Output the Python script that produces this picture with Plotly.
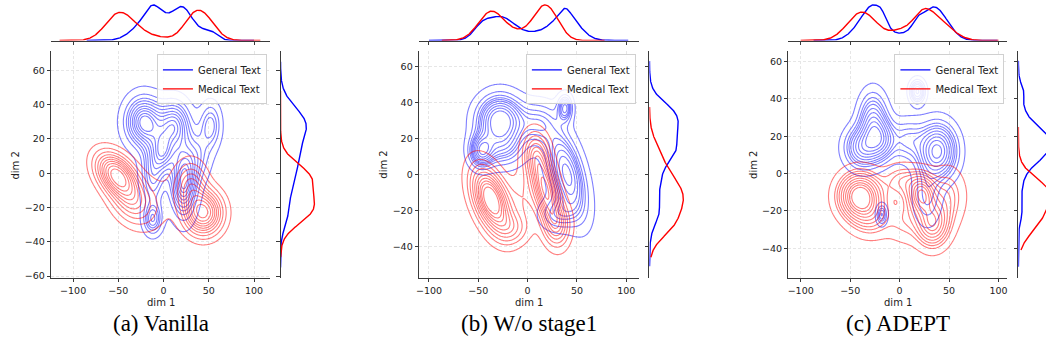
import numpy as np
import plotly.graph_objects as go

W, H = 1046, 354

# ---------------- data ----------------
panel_captions = ["(a) Vanilla", "(b) W/o stage1", "(c) ADEPT"]
class_names = ["General Text", "Medical Text"]
class_colors = ["#0000ff", "#ff0000"]
contour_colors = ["rgba(0,0,255,0.5)", "rgba(255,0,0,0.5)"]

x_ticks = [-100, -50, 0, 50, 100]
y_ticks_a = [-60, -40, -20, 0, 20, 40, 60]
y_ticks_bc = [-40, -20, 0, 20, 40, 60]

# Gaussian-mixture description of each KDE:
# (mean dim1, mean dim2, sd dim1, sd dim2, correlation, weight)
vanilla_general = [
    (-22, 30, 14, 10, 0.0, 0.22),
    (-12, 0, 9, 14, 0.0, 0.12),
    (-12, -27, 7, 6, 0.0, 0.04),
    (22, -5, 10, 14, 0.0, 0.22),
    (12, 28, 12, 10, 0.0, 0.16),
    (0, 12, 8, 8, 0.0, 0.06),
    (52, 28, 8, 9, 0.0, 0.06),
    (38, 10, 10, 10, 0.0, 0.06),
]
vanilla_medical = [
    (-52, -1, 14, 8, -0.4, 0.31),
    (-35, -16, 15, 9, -0.3, 0.17),
    (30, -8, 11, 9, 0.0, 0.14),
    (44, -23, 13, 8, 0.0, 0.31),
    (-5, -15, 15, 12, 0.0, 0.04),
]
wo_stage1_general = [
    (-28, 30, 15, 9, 0.0, 0.28),
    (-47, 13, 8, 6, 0.0, 0.07),
    (-25, 14, 15, 7, 0.0, 0.08),
    (40, 0, 13, 16, -0.5, 0.30),
    (38, 37, 5, 5, 0.0, 0.03),
    (10, 28, 13, 8, 0.0, 0.08),
    (30, -22, 12, 6, 0.0, 0.05),
]
wo_stage1_medical = [
    (-37, -14, 13, 12, -0.45, 0.40),
    (-15, -30, 12, 6, 0.0, 0.05),
    (18, -8, 10, 14, -0.5, 0.30),
    (30, -28, 9, 8, 0.0, 0.08),
    (8, 12, 9, 8, 0.0, 0.07),
    (-5, -12, 10, 10, 0.0, 0.04),
]
adept_general = [
    (-27, 27, 9, 10, 0.0, 0.14),
    (-38, 14, 11, 7, 0.0, 0.12),
    (-18, 18, 9, 7, 0.0, 0.08),
    (38, 12, 12, 9, 0.0, 0.26),
    (8, 18, 11, 7, 0.0, 0.06),
    (18, 44, 5, 4, 0.0, 0.03),
    (28, -12, 9, 10, 0.0, 0.06),
    (-18, -22, 3.5, 3.5, 0.0, 0.012),
]
adept_medical = [
    (-40, -12, 14, 8, 0.0, 0.32),
    (-28, -24, 14, 7, 0.0, 0.08),
    (22, -11, 9, 7, 0.0, 0.14),
    (33, -27, 11, 8, 0.0, 0.18),
    (48, -12, 12, 10, 0.0, 0.10),
    (2, -4, 12, 6, 0.0, 0.06),
    (5, -25, 11, 8, 0.0, 0.05),
]

# support of the 1-D marginal KDE curves: (dim1 min, dim1 max, dim2 min, dim2 max)
vanilla_support = [(-85, 100, -55, 65), (-115, 107, -49, 48)]
wo_stage1_support = [(-100, 102, -51, 63), (-87, 78, -46, 37.5)]
adept_support = [(-87, 99, -50, 60.5), (-100, 100, -41, 25)]

panels_data = [
    (vanilla_general, vanilla_medical, vanilla_support),
    (wo_stage1_general, wo_stage1_medical, wo_stage1_support),
    (adept_general, adept_medical, adept_support),
]

# ---------------- layout geometry (pixels) ----------------
x_ranges = [(-124.3, 117.6), (-110.0, 112.8), (-112.4, 109.0)]
y_ranges = [(-61.0, 71.1), (-57.4, 68.4), (-55.9, 65.5)]
y_tick_sets = [y_ticks_a, y_ticks_bc, y_ticks_bc]
main_px = [(48.3, 267.7), (417.3, 637.7), (787.7, 1007.3)]
right_px = [(278.3, 316.0), (648.3, 686.0), (1018.3, 1046.0)]
main_top, main_bot = 52.0, 281.0
marg_top, marg_bot = 0.0, 41.0
dim2_x = [12.5, 381.7, 752.0]

N_LEVELS = 11


def px_x(p):
    return p / W


def px_y(p):
    return 1 - p / H


def density2d(comps, X, Y):
    Z = np.zeros_like(X)
    tot = sum(c[5] for c in comps)
    for mx, my, sx, sy, rho, w in comps:
        dx = (X - mx) / sx
        dy = (Y - my) / sy
        q = (dx * dx - 2 * rho * dx * dy + dy * dy) / (1 - rho * rho)
        Z += (w / tot) * np.exp(-0.5 * q) / (2 * np.pi * sx * sy * np.sqrt(1 - rho * rho))
    return Z


def density1d(comps, t, axis):
    tot = sum(c[5] for c in comps)
    d = np.zeros_like(t)
    for c in comps:
        m, s = (c[0], c[2]) if axis == 0 else (c[1], c[3])
        d += (c[5] / tot) * np.exp(-0.5 * ((t - m) / s) ** 2) / (s * np.sqrt(2 * np.pi))
    return d * 0.5  # common normalisation over the two classes


def isoprop(Z):
    flat = Z.ravel()
    order = np.argsort(flat)[::-1]
    cum = np.cumsum(flat[order])
    cum /= cum[-1]
    M = np.empty_like(flat)
    M[order] = cum
    return M.reshape(Z.shape)


fig = go.Figure()
layout = dict(
    width=W, height=H, margin=dict(l=0, r=0, t=0, b=0),
    paper_bgcolor="white", plot_bgcolor="white", showlegend=True,
)
annotations = []
axis_font = dict(family="DejaVu Sans", size=9.5, color="#222222")
line_col = "#3a3a3a"

levels = np.linspace(0.05, 1, N_LEVELS)
iso_levels = 1 - levels
step = levels[1] - levels[0]

for i, (gen, med, support) in enumerate(panels_data):
    ax_main, ax_top, ax_right = 3 * i + 1, 3 * i + 2, 3 * i + 3
    xr, yr = x_ranges[i], y_ranges[i]
    xs = np.linspace(xr[0], xr[1], 240)
    ys = np.linspace(yr[0], yr[1], 240)
    X, Y = np.meshgrid(xs, ys)
    legend_name = "legend" if i == 0 else f"legend{i + 1}"

    # contours
    for k, comps in enumerate([gen, med]):
        Z = density2d(comps, X, Y)
        M = isoprop(Z)
        fig.add_trace(go.Contour(
            x=xs, y=ys, z=M,
            contours=dict(coloring="lines", start=iso_levels[-2], end=iso_levels[0], size=step),
            colorscale=[[0, contour_colors[k]], [1, contour_colors[k]]],
            showscale=False, line=dict(width=1.1), hoverinfo="skip",
            xaxis=f"x{ax_main}", yaxis=f"y{ax_main}", showlegend=False,
        ))

    # marginals
    top_max = 0
    right_max = 0
    curves = []
    for k, comps in enumerate([gen, med]):
        sx0, sx1, sy0, sy1 = support[k]
        tx = np.linspace(sx0, sx1, 400)
        ty = np.linspace(sy0, sy1, 400)
        dx = density1d(comps, tx, 0)
        dy = density1d(comps, ty, 1)
        top_max = max(top_max, dx.max())
        right_max = max(right_max, dy.max())
        curves.append((tx, dx, ty, dy))
    for k, (tx, dx, ty, dy) in enumerate(curves):
        fig.add_trace(go.Scatter(
            x=tx, y=dx, mode="lines", line=dict(color=class_colors[k], width=1.4),
            name=class_names[k], legend=legend_name, showlegend=True,
            xaxis=f"x{ax_top}", yaxis=f"y{ax_top}", hoverinfo="skip",
        ))
        fig.add_trace(go.Scatter(
            x=dy, y=ty, mode="lines", line=dict(color=class_colors[k], width=1.4),
            showlegend=False, xaxis=f"x{ax_right}", yaxis=f"y{ax_right}", hoverinfo="skip",
        ))

    mx0, mx1 = main_px[i]
    rx0, rx1 = right_px[i]
    main_dom_x = [px_x(mx0), px_x(mx1)]
    main_dom_y = [px_y(main_bot), px_y(main_top)]

    common_tick = dict(ticks="outside", ticklen=3.5, tickwidth=0.8, tickcolor=line_col,
                       showline=True, linecolor=line_col, linewidth=1, zeroline=False)
    grid = dict(showgrid=True, gridcolor="#e6e6e6", griddash="3px,2px", gridwidth=0.8)
    layout[f"xaxis{ax_main}"] = dict(
        domain=main_dom_x, range=list(xr), anchor=f"y{ax_main}", tickvals=x_ticks,
        tickfont=axis_font, **grid, **common_tick)
    layout[f"yaxis{ax_main}"] = dict(
        domain=main_dom_y, range=list(yr), anchor=f"x{ax_main}", tickvals=y_tick_sets[i],
        tickfont=axis_font, **grid, **common_tick)

    # top marginal
    marg_h = marg_bot - marg_top
    layout[f"xaxis{ax_top}"] = dict(
        domain=main_dom_x, range=list(xr), anchor=f"y{ax_top}", tickvals=x_ticks,
        showticklabels=False, showgrid=False, **common_tick)
    layout[f"yaxis{ax_top}"] = dict(
        domain=[px_y(marg_bot), px_y(marg_top)], range=[0, top_max * marg_h / 36.0],
        anchor=f"x{ax_top}", visible=False)

    # right marginal
    layout[f"yaxis{ax_right}"] = dict(
        domain=main_dom_y, range=list(yr), anchor=f"x{ax_right}", tickvals=y_tick_sets[i],
        showticklabels=False, showgrid=False, **common_tick)
    layout[f"xaxis{ax_right}"] = dict(
        domain=[px_x(rx0), px_x(rx1)], range=[0, right_max * (rx1 - rx0) / 34.0],
        anchor=f"y{ax_right}", visible=False)

    # legend
    layout[legend_name] = dict(
        x=px_x(mx1 - 3), y=px_y(main_top + 3), xanchor="right", yanchor="top",
        bgcolor="rgba(255,255,255,0.85)", bordercolor="#d0d0d0", borderwidth=1,
        font=dict(family="DejaVu Sans", size=10, color="#222222"),
        itemwidth=30, tracegroupgap=0,
    )

    # axis titles and captions
    annotations.append(dict(text="dim 1", x=px_x((mx0 + mx1) / 2), y=px_y(306), xref="paper", yref="paper",
                            showarrow=False, font=dict(family="DejaVu Sans", size=10, color="#222222"),
                            xanchor="center", yanchor="middle"))
    annotations.append(dict(text="dim 2", x=px_x(dim2_x[i]), y=px_y(167), xref="paper", yref="paper",
                            showarrow=False, textangle=-90,
                            font=dict(family="DejaVu Sans", size=10, color="#222222"),
                            xanchor="center", yanchor="middle"))
    annotations.append(dict(text=panel_captions[i], x=px_x((mx0 + mx1) / 2), y=px_y(327), xref="paper",
                            yref="paper", showarrow=False,
                            font=dict(family="Liberation Serif", size=23, color="#000000"),
                            xanchor="center", yanchor="middle"))

layout["annotations"] = annotations
fig.update_layout(**layout)
fig.write_html("out.html")
